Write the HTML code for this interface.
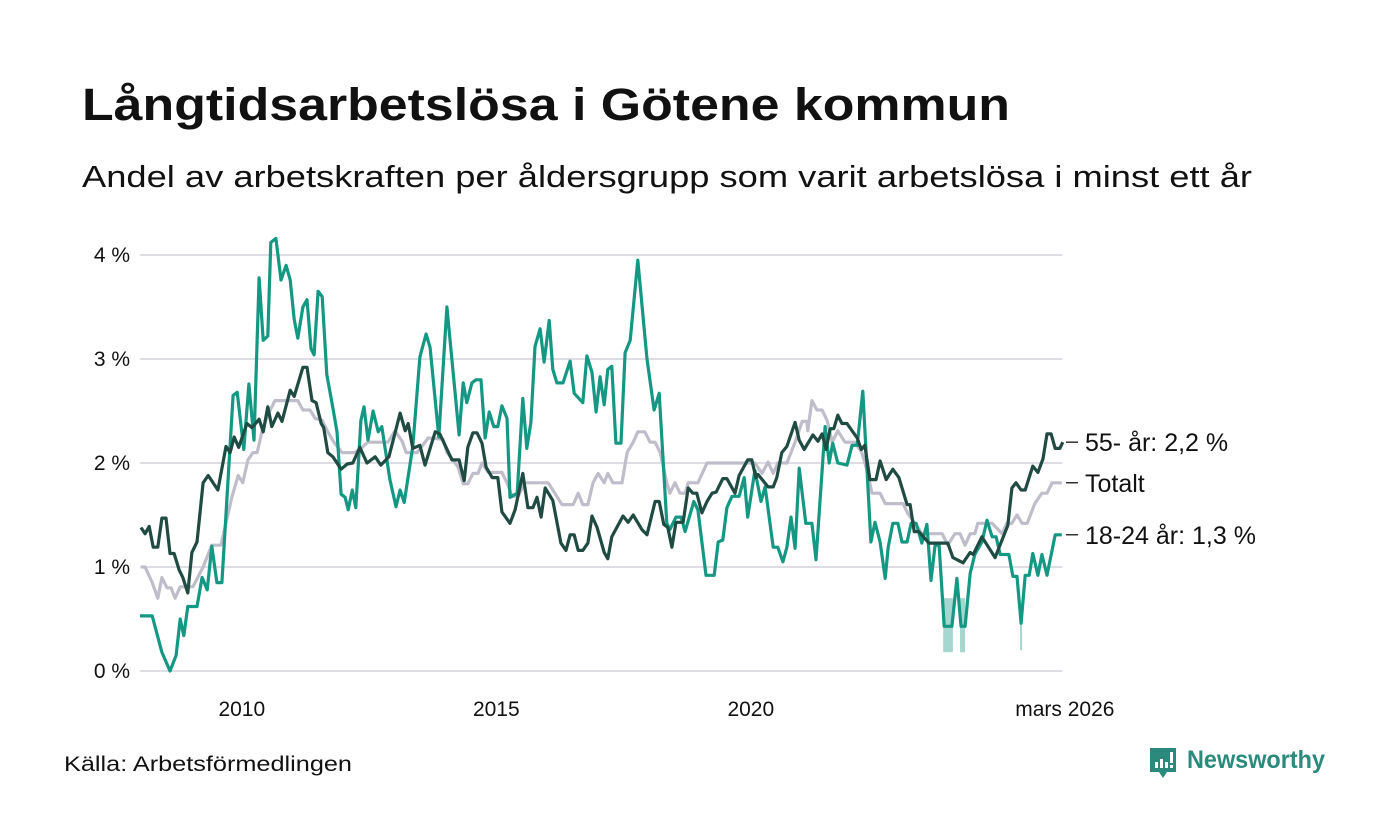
<!DOCTYPE html>
<html><head><meta charset="utf-8">
<style>
html,body{margin:0;padding:0;background:#fff;}
svg{display:block;font-family:"Liberation Sans",sans-serif;}
</style></head>
<body>
<svg id="chart" width="1400" height="840" viewBox="0 0 1400 840">
<text x="82" y="120" font-size="45" font-weight="bold" fill="#111" textLength="928" lengthAdjust="spacingAndGlyphs">Långtidsarbetslösa i Götene kommun</text>
<text x="82" y="187" font-size="31" fill="#111" textLength="1170" lengthAdjust="spacingAndGlyphs">Andel av arbetskraften per åldersgrupp som varit arbetslösa i minst ett år</text>
<g id="grid"></g>
<g id="bands"></g>
<g id="lines"></g>
<g id="labels"></g>
<text x="64" y="771" font-size="21" fill="#111" textLength="288" lengthAdjust="spacingAndGlyphs">Källa: Arbetsförmedlingen</text>
<g>
<path d="M1150 748 h26 v24 h-9 l-4 6 l-4 -6 h-9 z" fill="#2b8a7c"/>
<rect x="1155" y="762" width="3" height="6" fill="#fff"/>
<rect x="1160" y="759" width="3" height="9" fill="#fff"/>
<rect x="1165" y="762" width="3" height="6" fill="#fff"/>
<rect x="1170" y="752" width="3" height="11" fill="#fff"/>
<rect x="1170" y="765" width="3" height="3" fill="#fff"/>
<text x="1187" y="768" font-size="25" font-weight="bold" fill="#2b8a7c" textLength="138" lengthAdjust="spacingAndGlyphs">Newsworthy</text>
</g>
</svg>
<script>
// y axis
const yTicks = [0, 1, 2, 3, 4];
const yTickLabels = ["0 %", "1 %", "2 %", "3 %", "4 %"];
// x axis (years since Jan 2008)
const xTicks = [2, 7, 12, 18.17];
const xTickLabels = ["2010", "2015", "2020", "mars 2026"];

// 18-24 år
const tYouth = [0,.24,.43,.59,.71,.79,.86,.94,1.12,1.22,1.32,1.41,1.51,1.61,1.83,1.91,2.04,2.14,2.24,2.34,2.42,2.51,2.57,2.67,2.77,2.87,2.95,3.03,3.10,3.20,3.28,3.36,3.42,3.50,3.58,3.67,3.79,3.87,3.95,4.03,4.09,4.17,4.24,4.34,4.40,4.48,4.58,4.68,4.75,4.91,5.03,5.11,5.19,5.36,5.50,5.62,5.70,5.87,6.03,6.27,6.35,6.42,6.52,6.60,6.70,6.78,6.86,6.95,7.03,7.11,7.21,7.27,7.41,7.52,7.60,7.68,7.76,7.86,7.94,8.04,8.11,8.19,8.31,8.45,8.53,8.70,8.78,8.88,8.96,9.04,9.12,9.19,9.27,9.35,9.45,9.53,9.63,9.78,9.96,10.10,10.20,10.35,10.41,10.53,10.63,10.71,10.88,10.96,11.12,11.28,11.36,11.45,11.53,11.63,11.77,11.87,11.94,12.08,12.20,12.28,12.44,12.53,12.63,12.71,12.79,12.87,12.95,13.08,13.20,13.28,13.46,13.54,13.61,13.71,13.89,13.99,14.09,14.20,14.36,14.44,14.54,14.64,14.70,14.79,14.89,14.97,15.07,15.15,15.25,15.36,15.46,15.54,15.62,15.70,15.80,15.95,16.05,16.13,16.21,16.31,16.40,16.54,16.64,16.74,16.82,16.90,17.07,17.15,17.23,17.31,17.39,17.47,17.54,17.64,17.72,17.82,17.98,18.11];
const vYouth = [.53,.53,.18,0,.15,.5,.34,.62,.62,.9,.78,1.2,.85,.85,2.65,2.68,2.13,2.76,2.22,3.78,3.18,3.22,4.12,4.16,3.76,3.9,3.76,3.38,3.2,3.5,3.57,3.1,3.04,3.65,3.6,2.85,2.53,2.3,1.7,1.67,1.55,1.74,1.57,2.41,2.54,2.22,2.5,2.3,2.35,1.84,1.58,1.74,1.62,2.16,3.02,3.24,3.11,2.25,3.5,2.27,2.77,2.58,2.77,2.8,2.8,2.24,2.49,2.35,2.35,2.55,2.43,1.67,1.71,2.62,2.14,2.39,3.12,3.29,2.97,3.37,2.9,2.77,2.77,2.98,2.67,2.58,3.03,2.87,2.49,2.83,2.56,2.9,2.93,2.19,2.19,3.06,3.18,3.95,3.0,2.51,2.67,1.42,1.36,1.48,1.48,1.34,1.63,1.55,.92,.92,1.24,1.26,1.57,1.68,1.68,1.86,1.48,1.93,1.63,1.77,1.19,1.19,1.05,1.19,1.48,1.18,1.95,1.42,1.42,1.07,2.35,2.0,2.19,2.0,1.98,2.17,2.17,2.69,1.24,1.43,1.24,.89,1.19,1.42,1.42,1.24,1.24,1.42,1.42,1.23,1.41,.87,1.21,1.21,.43,.43,.89,.43,.43,.94,1.12,1.24,1.45,1.29,1.29,1.12,1.12,.91,.91,.46,.92,.92,1.13,.92,1.12,.92,1.31,1.31];
// uncertainty bands (youth)
const bandStart = [15.78, 16.11, 17.29];
const bandEnd = [15.97, 16.21, 17.33];
const bandLow = [0.18, 0.18, 0.2];
const bandHigh = [0.7, 0.7, 0.46];

// 55- år
const tOld = [.02,.10,.18,.26,.35,.43,.51,.59,.67,.77,.84,.94,1.02,1.12,1.24,1.34,1.53,1.69,1.77,1.85,1.94,2.10,2.20,2.34,2.42,2.51,2.59,2.71,2.79,2.95,3.03,3.20,3.28,3.38,3.46,3.56,3.61,3.69,3.79,3.95,4.07,4.18,4.32,4.46,4.62,4.73,4.89,5.11,5.21,5.27,5.36,5.50,5.60,5.80,5.89,6.13,6.27,6.37,6.44,6.54,6.62,6.72,6.80,6.92,7.03,7.11,7.27,7.37,7.52,7.62,7.72,7.80,7.88,7.96,8.11,8.27,8.37,8.45,8.53,8.61,8.70,8.80,8.88,8.98,9.12,9.19,9.27,9.49,9.59,9.69,9.86,9.96,10.12,10.20,10.29,10.37,10.45,10.53,10.67,10.77,10.86,10.94,11.04,11.14,11.24,11.32,11.45,11.53,11.69,11.77,11.94,12.02,12.10,12.14,12.34,12.44,12.51,12.61,12.71,12.87,12.95,13.05,13.22,13.32,13.40,13.48,13.56,13.63,13.71,13.79,13.89,13.99,14.09,14.17,14.24,14.34,14.46,14.54,14.66,14.79,14.91,14.99,15.07,15.13,15.21,15.30,15.50,15.87,15.97,16.17,16.31,16.37,16.54,16.80,17.05,17.13,17.21,17.31,17.39,17.54,17.64,17.74,17.82,17.90,17.98,18.07,18.13];
const vOld = [1.38,1.32,1.39,1.19,1.19,1.47,1.47,1.13,1.13,.97,.9,.75,1.14,1.24,1.81,1.88,1.74,2.16,2.10,2.25,2.15,2.38,2.34,2.42,2.30,2.54,2.35,2.48,2.40,2.70,2.64,2.92,2.92,2.60,2.58,2.38,2.34,2.1,2.06,1.94,1.99,2.0,2.15,2.0,2.06,1.98,2.06,2.48,2.31,2.38,2.14,2.17,1.98,2.3,2.28,2.03,2.03,1.83,2.15,2.29,2.29,2.19,1.96,1.86,1.86,1.53,1.42,1.55,1.9,1.57,1.57,1.67,1.48,1.76,1.64,1.23,1.16,1.31,1.31,1.16,1.16,1.23,1.49,1.38,1.14,1.08,1.29,1.49,1.43,1.50,1.36,1.31,1.63,1.63,1.41,1.38,1.19,1.43,1.43,1.76,1.71,1.71,1.52,1.63,1.71,1.72,1.85,1.85,1.71,1.88,2.03,2.03,1.86,1.89,1.77,1.77,1.86,2.1,2.16,2.39,2.22,2.13,2.27,2.21,2.28,2.13,2.33,2.33,2.46,2.38,2.38,2.31,2.24,2.13,2.17,1.84,1.84,2.02,1.84,1.94,1.86,1.73,1.6,1.6,1.34,1.34,1.23,1.23,1.09,1.04,1.14,1.12,1.29,1.09,1.40,1.76,1.81,1.74,1.74,1.97,1.91,2.04,2.28,2.28,2.14,2.14,2.2];

// Totalt
const tTotal = [.02,.10,.24,.35,.43,.53,.61,.69,.79,1.04,1.24,1.41,1.59,1.81,1.93,2.02,2.12,2.22,2.30,2.40,2.50,2.65,3.10,3.20,3.34,3.44,3.58,3.69,3.81,3.97,4.22,4.36,4.48,4.87,5.01,5.15,5.23,5.44,5.54,5.66,5.95,6.03,6.15,6.25,6.35,6.44,6.54,6.64,6.72,6.84,7.11,7.21,7.31,7.43,7.56,8.02,8.15,8.29,8.51,8.61,8.70,8.80,8.90,9.00,9.12,9.19,9.29,9.47,9.57,9.69,9.78,9.92,10.02,10.12,10.22,10.35,10.41,10.51,10.61,10.71,10.77,10.96,11.14,11.93,12.08,12.22,12.34,12.44,12.53,12.71,12.87,13.01,13.10,13.12,13.20,13.30,13.40,13.50,13.60,13.71,13.85,14.05,14.18,14.30,14.38,14.54,14.64,14.99,15.09,15.23,15.36,15.76,15.87,16.01,16.11,16.21,16.31,16.40,16.46,16.74,16.94,17.03,17.13,17.23,17.33,17.43,17.58,17.72,17.82,17.92,18.11];
const vTotal = [1.0,1.0,.85,.7,.9,.8,.8,.7,.81,.81,1.0,1.21,1.21,1.68,1.88,1.81,2.03,2.1,2.1,2.31,2.45,2.6,2.6,2.51,2.51,2.43,2.41,2.3,2.2,2.1,2.1,2.15,2.2,2.2,2.31,2.21,2.1,2.1,2.16,2.24,2.23,2.1,2.03,1.96,1.8,1.8,1.9,1.9,2.0,1.91,1.91,1.81,1.68,1.68,1.81,1.81,1.71,1.6,1.6,1.71,1.6,1.6,1.81,1.9,1.81,1.9,1.81,1.81,2.1,2.2,2.3,2.3,2.2,2.2,2.1,1.81,1.71,1.81,1.71,1.71,1.81,1.81,2.0,2.0,2.0,1.9,2.01,1.9,2.0,2.0,2.2,2.4,2.4,2.31,2.6,2.51,2.51,2.41,2.2,2.31,2.2,2.2,2.1,1.9,1.71,1.71,1.61,1.61,1.51,1.42,1.32,1.32,1.21,1.32,1.32,1.21,1.32,1.32,1.42,1.42,1.32,1.42,1.42,1.5,1.42,1.42,1.61,1.71,1.71,1.81,1.81];

const seriesNames = ["55- år: 2,2 %", "Totalt", "18-24 år: 1,3 %"];

const NS = "http://www.w3.org/2000/svg";
const X0 = 140, PXY = 50.9, Y0 = 671, PXV = 104;
function xs(t){ return X0 + t * PXY; }
function ys(v){ return Y0 - v * PXV; }
function mk(tag, parent){ const e = document.createElementNS(NS, tag); parent.appendChild(e); return e; }

const grid = document.getElementById('grid');
yTicks.forEach((v, i) => {
  const l = mk('line', grid);
  
  
  l.setAttribute('x1', 140); l.setAttribute('x2', 1062);
  l.setAttribute('y1', ys(v)); l.setAttribute('y2', ys(v));
  l.setAttribute('stroke', '#dedde3'); l.setAttribute('stroke-width', 2);
  const t = mk('text', grid);
  
  
  t.setAttribute('x', 130); t.setAttribute('y', ys(v) + 7);
  t.setAttribute('text-anchor', 'end'); t.setAttribute('font-size', 21); t.setAttribute('fill', '#111');
  t.textContent = yTickLabels[i];
});
xTicks.forEach((tv, i) => {
  const t = mk('text', grid);
  
  
  t.setAttribute('x', xs(tv)); t.setAttribute('y', 716);
  t.setAttribute('text-anchor', 'middle'); t.setAttribute('font-size', 21); t.setAttribute('fill', '#111');
  t.textContent = xTickLabels[i];
});

const bands = document.getElementById('bands');
bandStart.forEach((s, i) => {
  const r = mk('rect', bands);
  
  
  r.setAttribute('x', xs(s)); r.setAttribute('width', xs(bandEnd[i]) - xs(s));
  r.setAttribute('y', ys(bandHigh[i])); r.setAttribute('height', ys(bandLow[i]) - ys(bandHigh[i]));
  r.setAttribute('fill', '#a5d6cf');
});

const lines = document.getElementById('lines');
function drawLine(ts, vs, color, name){
  const p = mk('path', lines);
  
  
  p.setAttribute('d', ts.map((t, i) => (i ? 'L' : 'M') + xs(t).toFixed(1) + ' ' + ys(vs[i]).toFixed(1)).join(' '));
  p.setAttribute('fill', 'none'); p.setAttribute('stroke', color);
  p.setAttribute('stroke-width', 3.2); p.setAttribute('stroke-linejoin', 'round');
}
drawLine(tTotal, vTotal, '#c0bdcb', 'line-totalt');
drawLine(tYouth, vYouth, '#149883', 'line-18-24');
drawLine(tOld, vOld, '#1f4b42', 'line-55');

const labels = document.getElementById('labels');
const lastVals = [vOld[vOld.length-1], vTotal[vTotal.length-1], vYouth[vYouth.length-1]];
lastVals.forEach((v, i) => {
  const y = ys(v);
  const l = mk('line', labels);
  
  
  l.setAttribute('x1', 1066); l.setAttribute('x2', 1078); l.setAttribute('y1', y); l.setAttribute('y2', y);
  l.setAttribute('stroke', '#333'); l.setAttribute('stroke-width', 1.5);
  const t = mk('text', labels);
  
  
  t.setAttribute('x', 1085); t.setAttribute('y', y + 9);
  t.setAttribute('font-size', 25); t.setAttribute('fill', '#111');
  t.textContent = seriesNames[i];
});
</script>
</body></html>
